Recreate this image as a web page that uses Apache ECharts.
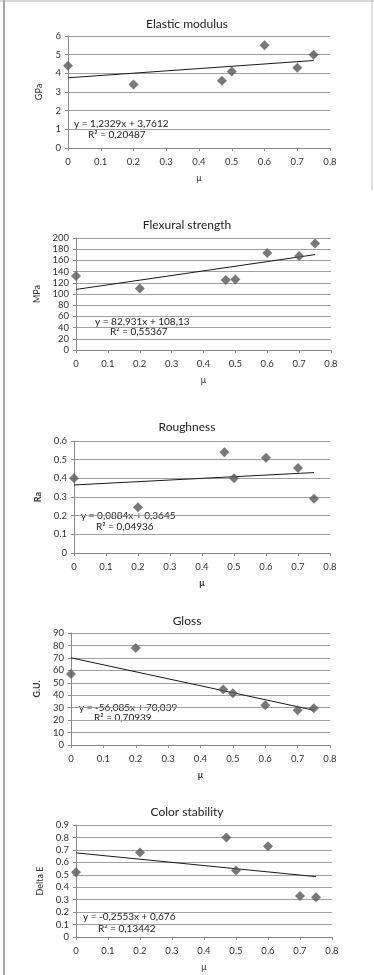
<!DOCTYPE html>
<html><head><meta charset="utf-8">
<script src="https://cdn.jsdelivr.net/npm/echarts@6/dist/echarts.min.js"></script>
<style>html,body{margin:0;padding:0;background:#fff}#c{width:374px;height:975px}</style>
</head><body><div id="c"></div>
<script>
// ---- data ----
const mu = [0, 0.2, 0.47, 0.5, 0.6, 0.7, 0.75];
const elasticModulus = [4.4, 3.4, 3.6, 4.1, 5.5, 4.3, 5.0];
const flexuralStrength = [132, 110, 125, 126, 173, 168, 190];
const roughness = [0.40, 0.245, 0.54, 0.40, 0.51, 0.455, 0.29];
const gloss = [57, 78, 44.5, 41.5, 32, 28, 29.5];
const colorStability = [0.52, 0.68, 0.80, 0.535, 0.73, 0.33, 0.32];
const trendX = [0, 0.75];
const elasticTrend = [3.761, 4.686];
const flexuralTrend = [108.13, 170.33];
const roughnessTrend = [0.3645, 0.4308];
const glossTrend = [70.04, 27.97];
const colorTrend = [0.676, 0.485];
const titles = ['Elastic modulus', 'Flexural strength', 'Roughness', 'Gloss', 'Color stability'];
const yNames = ['GPa', 'MPa', 'Ra', 'G.U.', 'Delta E'];
const xName = 'μ';
const equations = [
  ['y = 1,2329x + 3,7612', 'R² = 0,20487'],
  ['y = 82,931x + 108,13', 'R² = 0,55367'],
  ['y = 0,0884x + 0,3645', 'R² = 0,04936'],
  ['y = -56,085x + 70,039', 'R² = 0,70939'],
  ['y = -0,2553x + 0,676', 'R² = 0,13442']
];
const xMin = 0, xMax = 0.8, xStep = 0.1;
const yMax = [6, 200, 0.6, 90, 0.9];
const yStep = [1, 20, 0.1, 10, 0.1];

// ---- layout ----
const FONT = 'Lato, "Open Sans", sans-serif';
const values = [elasticModulus, flexuralStrength, roughness, gloss, colorStability];
const trends = [elasticTrend, flexuralTrend, roughnessTrend, glossTrend, colorTrend];
const grids = [
  {left: 68, top: 36, width: 262, height: 112},
  {left: 76, top: 238, width: 255, height: 112},
  {left: 74, top: 441, width: 256, height: 112},
  {left: 71, top: 633, width: 259, height: 112},
  {left: 76, top: 825, width: 256, height: 112}
];
const titleY = [13, 214, 416, 610, 801];
const nameGaps = [24, 28, 24, 22, 26];
const boldNames = [false, false, true, true, false];
const eqPos = [[74, 124, 88, 135], [95, 322, 110, 332], [81, 516, 96, 527], [79, 708, 94, 718], [83, 917, 98, 929]];

const axisColor = '#8a8a8a';
const option = {
  animation: false,
  backgroundColor: '#fff',
  title: titles.map((t, i) => ({
    text: t, left: 'center', top: titleY[i],
    textStyle: {fontFamily: FONT, fontSize: 12, fontWeight: 'normal', color: '#222'}
  })),
  grid: grids,
  xAxis: grids.map((g, i) => ({
    type: 'value', gridIndex: i, min: xMin, max: xMax, interval: xStep,
    name: xName, nameLocation: 'middle', nameGap: 26,
    nameTextStyle: {fontFamily: FONT, fontSize: 9, color: '#333', fontWeight: boldNames[i] ? 'bold' : 'normal'},
    axisLine: {show: true, lineStyle: {color: axisColor, width: 1}},
    axisTick: {show: true, length: 3, lineStyle: {color: axisColor}},
    axisLabel: {fontFamily: FONT, fontSize: 9.5, color: '#333', margin: 9},
    splitLine: {show: false}
  })),
  yAxis: grids.map((g, i) => ({
    type: 'value', gridIndex: i, min: 0, max: yMax[i], interval: yStep[i],
    name: yNames[i], nameLocation: 'middle', nameGap: nameGaps[i], nameRotate: 90,
    nameTextStyle: {fontFamily: FONT, fontSize: 9, color: '#333', fontWeight: boldNames[i] ? 'bold' : 'normal'},
    axisLine: {show: true, lineStyle: {color: axisColor, width: 1}},
    axisTick: {show: true, length: 3, lineStyle: {color: axisColor}},
    axisLabel: {fontFamily: FONT, fontSize: 9.5, color: '#333', margin: 7},
    splitLine: {show: true, lineStyle: {color: '#a0a0a0', width: 1}}
  })),
  series: [].concat(...values.map((v, i) => [
    {
      type: 'scatter', xAxisIndex: i, yAxisIndex: i, symbol: 'diamond', symbolSize: 10,
      itemStyle: {color: '#585858'},
      data: mu.map((m, j) => [m, v[j]])
    },
    {
      type: 'line', xAxisIndex: i, yAxisIndex: i, showSymbol: false, symbol: 'none',
      lineStyle: {color: '#1a1a1a', width: 1}, z: 1,
      data: trendX.map((x, j) => [x, trends[i][j]])
    }
  ])),
  graphic: [
    {type: 'line', shape: {x1: 4, y1: 0, x2: 4, y2: 975}, style: {stroke: '#a8a8a8', lineWidth: 2}},
    {type: 'line', shape: {x1: 0, y1: 1, x2: 374, y2: 1}, style: {stroke: '#b0b0b0', lineWidth: 1}},
    {type: 'line', shape: {x1: 372, y1: 0, x2: 372, y2: 190}, style: {stroke: '#c0c0c0', lineWidth: 1}}
  ].concat(...equations.map((e, i) => [
    {type: 'text', x: eqPos[i][0], y: eqPos[i][1], style: {text: e[0], fontFamily: FONT, fontSize: 10, fill: '#222', verticalAlign: 'middle', align: 'left'}},
    {type: 'text', x: eqPos[i][2], y: eqPos[i][3], style: {text: e[1], fontFamily: FONT, fontSize: 10, fill: '#222', verticalAlign: 'middle', align: 'left'}}
  ]))
};
const chart = echarts.init(document.getElementById('c'), null, {renderer: 'canvas'});
chart.setOption(option);
</script>
</body></html>
